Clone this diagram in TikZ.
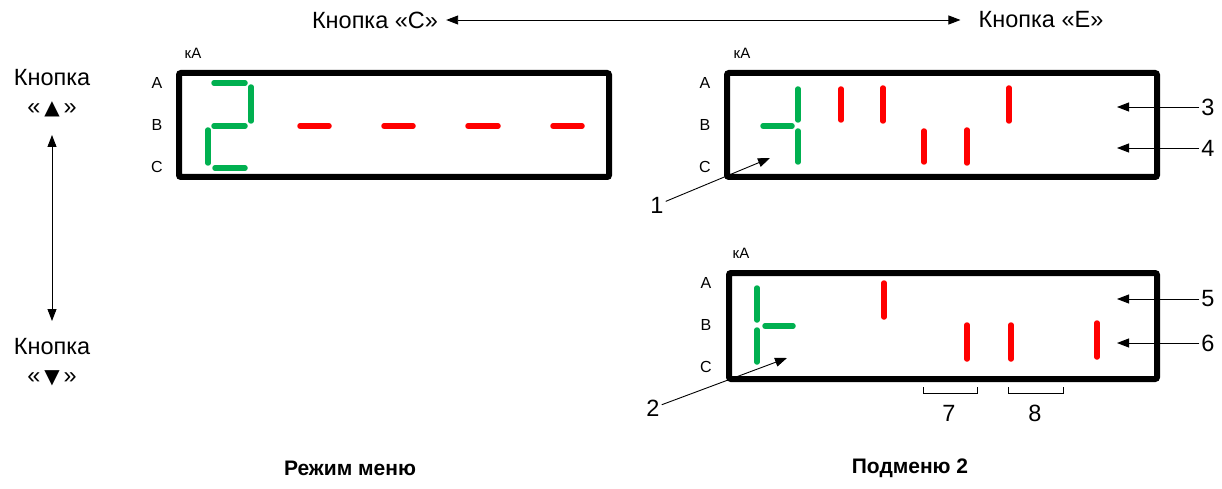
\documentclass[tikz,border=0pt]{standalone}
\usepackage{fontspec}
\setmainfont{Liberation Sans}
\newfontfamily\symfont{DejaVu Sans}
\usetikzlibrary{arrows.meta}
\definecolor{seggreen}{RGB}{0,176,80}
\definecolor{segred}{RGB}{255,0,0}
\tikzset{
  big/.style={font=\fontsize{23.5}{26}\selectfont, inner sep=2pt},
  title/.style={font=\fontsize{21}{24}\selectfont\bfseries},
  phase/.style={font=\fontsize{16}{18}\selectfont, inner sep=0pt},
  unit/.style={font=\fontsize{15}{16}\selectfont, inner sep=0pt},
  panel/.style={draw, line width=6pt, rounded corners=2pt},
  gseg/.style={seggreen, line width=5.5pt, line cap=round},
  rseg/.style={segred, line width=5.5pt, line cap=round},
  pointer/.style={line width=0.9pt, -{Triangle[length=12pt,width=9pt]}},
  both/.style={line width=0.9pt, {Triangle[length=12pt,width=9pt]}-{Triangle[length=12pt,width=9pt]}}
}
\begin{document}
\begin{tikzpicture}[x=1pt, y=-1pt]
  \useasboundingbox (0,0) rectangle (1222,489);

  % Buttons
  \node[big, inner sep=8pt] (btnC) at (375,20) {Кнопка «С»};
  \node[big, inner sep=8pt] (btnE) at (1041,20) {Кнопка «Е»};
  \node[big] (btnUp) at (52,78) {Кнопка};
  \node[big] (symUp) at (52,109) {«\,{\symfont\fontsize{20}{22}\selectfont ▲}\,»};
  \node[big] (btnDown) at (52,347) {Кнопка};
  \node[big] (symDown) at (52,378) {«\,{\symfont\fontsize{20}{22}\selectfont ▼}\,»};
  \coordinate (upTip) at (52,135);
  \coordinate (downTip) at (52,321);

  % Panels
  \draw[panel] (179,73) rectangle (609,177);
  \draw[panel] (727,73) rectangle (1157,177);
  \draw[panel] (729,273) rectangle (1157,379);

  % Phase labels
  \node[unit] (kA1) at (193,53) {кА};
  \node[phase] (A1) at (157,83) {A};
  \node[phase] (B1) at (157,125) {B};
  \node[phase] (C1) at (157,167) {C};
  \node[unit] (kA2) at (742,53) {кА};
  \node[phase] (A2) at (705,83) {A};
  \node[phase] (B2) at (705,125) {B};
  \node[phase] (C2) at (705,167) {C};
  \node[unit] (kA3) at (741,253) {кА};
  \node[phase] (A3) at (706,283) {A};
  \node[phase] (B3) at (706,325) {B};
  \node[phase] (C3) at (706,367) {C};

  % Menu mode display
  \draw[gseg] (214,83) -- (245,83);
  \draw[gseg] (251,87) -- (251,121);
  \draw[gseg] (214,126) -- (245,126);
  \draw[gseg] (208,130) -- (208,163);
  \draw[gseg] (215,168) -- (245,168);
  \draw[rseg] (300,126) -- (329,126);
  \draw[rseg] (384,126) -- (413,126);
  \draw[rseg] (468,126) -- (498,126);
  \draw[rseg] (553,126) -- (582,126);

  % Submenu display, upper
  \draw[gseg] (798,89) -- (798,120);
  \draw[gseg] (763,126) -- (792,126);
  \draw[gseg] (798,131) -- (798,162);
  \draw[rseg] (841,89) -- (841,120);
  \draw[rseg] (883,88) -- (883,121);
  \draw[rseg] (1009,88) -- (1009,121);
  \draw[rseg] (924,131) -- (924,162);
  \draw[rseg] (967,130) -- (967,163);

  % Submenu display, lower
  \draw[gseg] (757,288) -- (757,320);
  \draw[gseg] (765,326) -- (793,326);
  \draw[gseg] (757,330) -- (757,362);
  \draw[rseg] (884,283) -- (884,317);
  \draw[rseg] (967,325) -- (967,359);
  \draw[rseg] (1011,325) -- (1011,359);
  \draw[rseg] (1097,323) -- (1097,357);

  % Callouts
  \node[big] (n1) at (657,205) {1};
  \node[big] (n2) at (653,408) {2};
  \node[big] (n3) at (1208,107) {3};
  \node[big] (n4) at (1208,148) {4};
  \node[big] (n5) at (1208,299) {5};
  \node[big] (n6) at (1208,343) {6};
  \node[big] (n7) at (949,413) {7};
  \node[big] (n8) at (1035,413) {8};
  \coordinate (t1) at (770,158);
  \coordinate (t2) at (787,358);
  \coordinate (t3) at (1117,107);
  \coordinate (t4) at (1117,148);
  \coordinate (t5) at (1117,299);
  \coordinate (t6) at (1117,343);

  % Titles
  \node[title] (menu) at (350,468) {Режим меню};
  \node[title] (sub) at (910,468) {Подменю 2};

  % Edges
  \draw[both, shorten >=10pt] (btnC) -- (btnE);
  \draw[both] (upTip) -- (downTip);
  \draw[pointer] (n1) -- (t1);
  \draw[pointer] (n2) -- (t2);
  \draw[pointer] (n3) -- (t3);
  \draw[pointer] (n4) -- (t4);
  \draw[pointer] (n5) -- (t5);
  \draw[pointer] (n6) -- (t6);
  \draw[line width=0.9pt] (923,387) -- (923,393) -- (977,393) -- (977,387);
  \draw[line width=0.9pt] (1008,387) -- (1008,393) -- (1063,393) -- (1063,387);
\end{tikzpicture}
\end{document}
